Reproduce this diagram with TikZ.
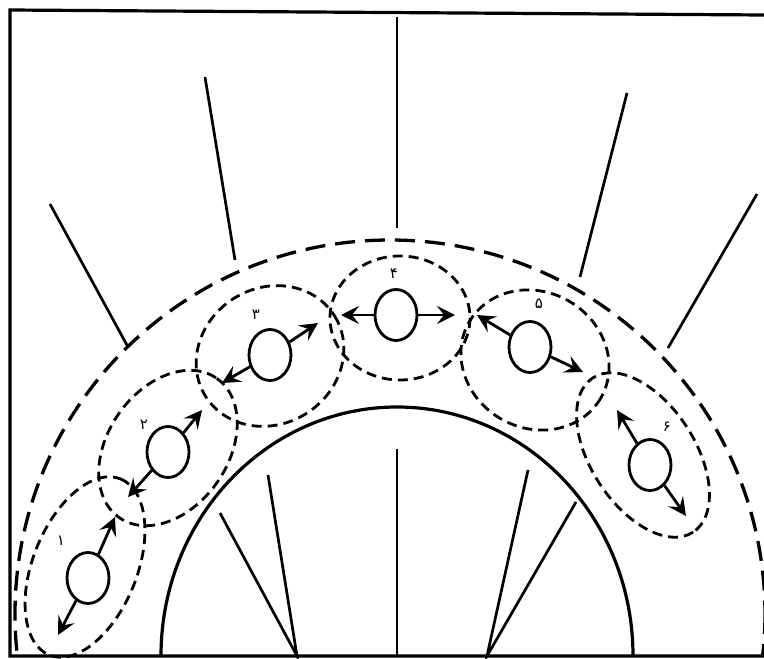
\documentclass[tikz,border=0pt]{standalone}
\usepackage{fontspec}
\newfontfamily\arabicfont[Script=Arabic]{DejaVu Sans}
\usetikzlibrary{shapes.geometric,arrows.meta}
\tikzset{
  frameline/.style={line width=3.2pt},
  spoke/.style={line width=2.7pt},
  outerdash/.style={line width=3.3pt, dash pattern=on 20pt off 10pt},
  groupdash/.style={line width=2.8pt, dash pattern=on 10pt off 6pt},
  ball/.style={draw, ellipse, line width=2.8pt, minimum width=42pt, minimum height=51pt, inner sep=0pt},
  arr/.style={line width=2.8pt, -{Stealth[length=18pt,width=18pt,inset=7pt]}},
  num/.style={font=\arabicfont\fontsize{15}{15}\selectfont, inner sep=0pt}
}
\begin{document}
\begin{tikzpicture}[x=1pt,y=-1pt]
\useasboundingbox (0,0) rectangle (764,659);
% frame
\draw[frameline] (764,15) -- (10,10) -- (10,656) -- (764,656);
% outer spokes
\draw[spoke] (397,17) -- (397,228);
\draw[spoke] (205,77) -- (235,260);
\draw[spoke] (50,204) -- (128,347);
\draw[spoke] (627,93) -- (580,277);
\draw[spoke] (757,194) -- (668,348);
% inner spokes
\draw[spoke] (397,449) -- (397,656);
\draw[spoke] (268,475) -- (297,656) -- (220,513);
\draw[spoke] (528,470) -- (487,656) -- (576,502);
\begin{scope}
\clip (10,10) rectangle (764,656);
\draw[line width=3.2pt] (397,656) ellipse [x radius=236, y radius=249];
\draw[outerdash] (390,614) ellipse [x radius=375, y radius=374];
\end{scope}
% group ellipses
\draw[groupdash, rotate around={68:(85,567)}] (85,567) ellipse [x radius=95, y radius=52];
\draw[groupdash, rotate around={55:(168,448)}] (168,448) ellipse [x radius=85, y radius=60];
\draw[groupdash, rotate around={32:(270,356)}] (270,356) ellipse [x radius=76, y radius=68];
\draw[groupdash] (400,318) ellipse [x radius=70, y radius=62];
\draw[groupdash, rotate around={-30:(535,360)}] (535,360) ellipse [x radius=76, y radius=68];
\draw[groupdash, rotate around={-57:(643,455)}] (643,455) ellipse [x radius=92, y radius=52];
% balls
\node[ball] (c1) at (88,578) {};
\node[ball] (c2) at (168,452) {};
\node[ball] (c3) at (270,355) {};
\node[ball] (c4) at (396,315) {};
\node[ball] (c5) at (530,347) {};
\node[ball] (c6) at (650,465) {};
% arrow tips
\coordinate (a1) at (115,517); \coordinate (b1) at (58,635);
\coordinate (a2) at (202,410); \coordinate (b2) at (128,497);
\coordinate (a3) at (318,323); \coordinate (b3) at (222,383);
\coordinate (a4) at (455,315); \coordinate (b4) at (341,315);
\coordinate (a5) at (477,315); \coordinate (b5) at (583,372);
\coordinate (a6) at (617,410); \coordinate (b6) at (686,516);
\foreach \i in {1,...,6} {
  \draw[arr] (c\i) -- (a\i);
  \draw[arr] (c\i) -- (b\i);
}
% labels
\node[num] (l1) at (61,541) {۱};
\node[num] (l2) at (144,425) {۲};
\node[num] (l3) at (256,315) {۳};
\node[num] (l4) at (394,274) {۴};
\node[num] (l5) at (539,304) {۵};
\node[num] (l6) at (667,427) {۶};
\end{tikzpicture}
\end{document}
